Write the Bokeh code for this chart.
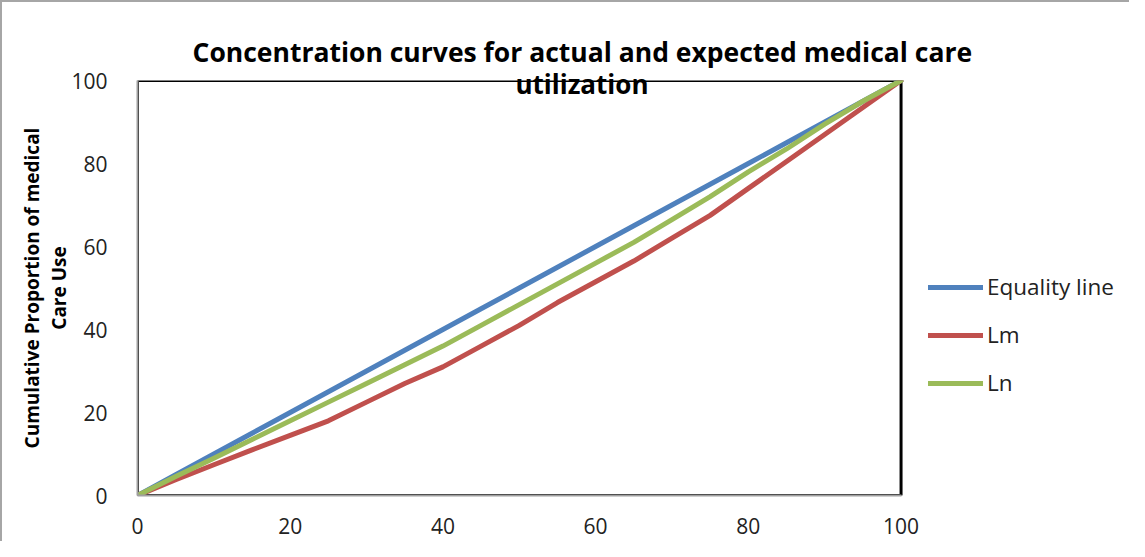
from bokeh.plotting import figure
from bokeh.models import Range1d, Legend, LegendItem, Title, FixedTicker, BoxAnnotation
from bokeh.embed import file_html
from bokeh.resources import INLINE

# ---- data ----
x_vals = [0, 5, 10, 15, 20, 25, 30, 35, 40, 45, 50, 55, 60, 65, 70, 75, 80, 85, 90, 95, 100]
equality = [0, 5, 10, 15, 20, 25, 30, 35, 40, 45, 50, 55, 60, 65, 70, 75, 80, 85, 90, 95, 100]
lm = [0, 3.8, 7.4, 11, 14.5, 18, 22.5, 27, 31, 36, 41, 46.5, 51.5, 56.5, 62, 67.5, 74, 80.5, 87, 93.5, 100]
ln = [0, 4.6, 9, 13.5, 18, 22.5, 27, 31.5, 36, 41, 46, 51, 56, 61, 66.5, 72, 78, 83.5, 89.5, 95, 100]
series_names = ["Equality line", "Lm", "Ln"]
series_colors = ["#4F81BD", "#C0504D", "#9BBB59"]
ticks = [0, 20, 40, 60, 80, 100]
title_lines = ["Concentration curves for actual and expected medical care", "utilization"]
ylabel_text = "Cumulative Proportion of medical\nCare Use"

FONT = "Open Sans"

# plot box occupies 762px of a 982px-wide frame; the rest (right) holds the legend
X_MAX = 100 * 982 / 762

p = figure(width=1129, height=541, output_backend="svg", toolbar_location=None,
           x_range=Range1d(0, X_MAX), y_range=Range1d(0, 100),
           min_border_left=135, min_border_right=10, min_border_top=78, min_border_bottom=48)
p.styles = {"border-left": "2px solid #a6a6a6", "border-top": "2px solid #a6a6a6"}
p.outline_line_color = None
p.grid.visible = False
p.background_fill_color = "white"
p.border_fill_color = "white"

# black box around the plot area (left/bottom get covered by the grey axes)
p.add_layout(BoxAnnotation(left=0, right=100, bottom=0, top=100, fill_alpha=0,
                           line_color="black", line_alpha=1.0, line_width=3, level="underlay"))

for ax in (p.xaxis[0], p.yaxis[0]):
    ax.ticker = FixedTicker(ticks=ticks)
    ax.axis_line_color = "#a0a0a0"
    ax.axis_line_width = 2
    ax.major_tick_line_color = None
    ax.minor_tick_line_color = None
    ax.major_label_text_font = FONT
    ax.major_label_text_font_size = "21px"
    ax.major_label_text_color = "#222222"
p.xaxis[0].bounds = (0, 100)
p.xaxis[0].major_label_standoff = 16
p.yaxis[0].major_label_standoff = 24

p.yaxis[0].axis_label = ylabel_text
p.yaxis[0].axis_label_text_font = FONT
p.yaxis[0].axis_label_text_font_size = "19px"
p.yaxis[0].axis_label_text_font_style = "bold"
p.yaxis[0].axis_label_text_color = "black"
p.yaxis[0].axis_label_text_line_height = 1.05
p.yaxis[0].axis_label_standoff = -4

renderers = []
for ys, name, col in zip([equality, lm, ln], series_names, series_colors):
    r = p.line(x_vals, ys, line_color=col, line_width=5, line_cap="round", line_join="round")
    renderers.append(r)

legend = Legend(items=[LegendItem(label=n, renderers=[r]) for n, r in zip(series_names, renderers)],
                location=(791, 97), glyph_width=55, glyph_height=20, label_height=20,
                label_standoff=4, spacing=17, padding=0, margin=0,
                border_line_color=None, background_fill_alpha=0,
                label_text_font=FONT, label_text_font_size="22.5px", label_text_color="#222222")
p.add_layout(legend, "center")

# title (two lines; the second one sits on the plot box's top edge)
p.add_layout(Title(text=title_lines[1], align="left", offset=378, standoff=-43,
                   text_font=FONT, text_font_size="26px", text_font_style="bold",
                   text_color="black"), "above")
p.add_layout(Title(text=title_lines[0], align="left", offset=55, standoff=22,
                   text_font=FONT, text_font_size="26.5px", text_font_style="bold",
                   text_color="black"), "above")

open("out.html", "w").write(file_html(p, INLINE))
